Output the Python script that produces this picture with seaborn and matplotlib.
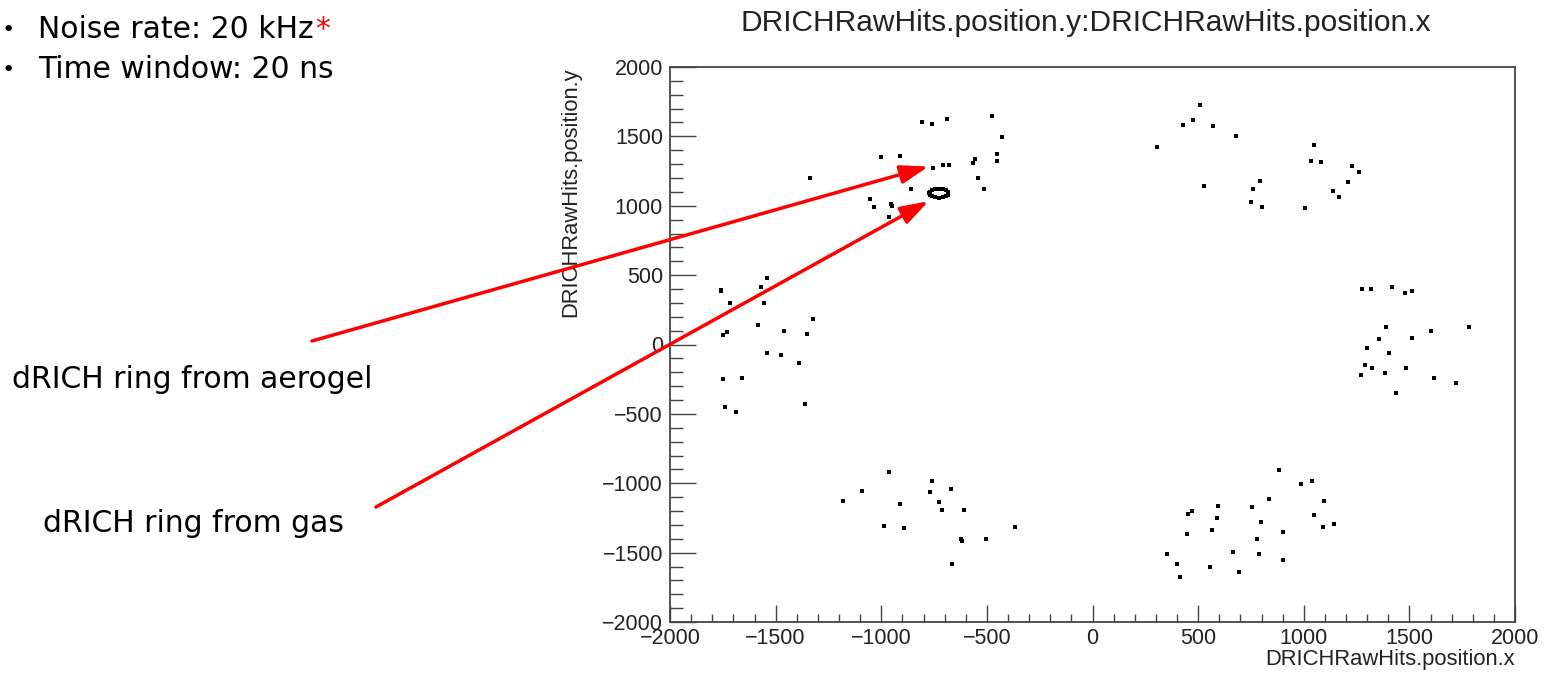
import matplotlib
matplotlib.use("Agg")
import matplotlib.pyplot as plt
import seaborn as sns
import pandas as pd

# ---------------- data (hit positions, mm) ----------------
tl_x = [-1336, -1001, -911, -809, -762, -688, -476, -427, -454, -454, -555, -566,
        -540, -513, -708, -678, -757, -878, -858, -1055, -1033, -954, -949, -964]
tl_y = [1202, 1348, 1355, 1600, 1591, 1622, 1646, 1492, 1372, 1324, 1339, 1307,
        1202, 1120, 1291, 1291, 1274, 1218, 1120, 1048, 990, 1012, 1000, 921]

left_x = [-1757, -1757, -1569, -1543, -1715, -1554, -1325, -1585, -1458, -1352,
          -1749, -1729, -1543, -1473, -1388, -1749, -1659, -1738, -1686, -1363]
left_y = [394, 385, 418, 476, 298, 298, 183, 137, 94, 79,
          72, 87, -58, -75, -132, -252, -243, -447, -488, -430]

tr_x = [508, 428, 475, 571, 681, 305, 529, 794, 762, 752,
        800, 1007, 1049, 1034, 1081, 1229, 1261, 1209, 1139, 1166]
tr_y = [1728, 1584, 1615, 1574, 1502, 1420, 1139, 1178, 1120, 1024,
        993, 983, 1437, 1324, 1314, 1286, 1242, 1170, 1108, 1065]

right_x = [1278, 1316, 1420, 1478, 1512, 1388, 1602, 1781, 1357, 1512,
           1299, 1404, 1292, 1325, 1384, 1485, 1272, 1617, 1723, 1436]
right_y = [401, 401, 411, 368, 387, 128, 96, 128, 38, 46,
           -26, -58, -147, -170, -204, -170, -221, -243, -276, -351]

bl_x = [-964, -762, -1091, -1181, -768, -670, -911, -726, -713, -609,
        -986, -890, -369, -621, -620, -502, -663]
bl_y = [-916, -981, -1053, -1127, -1062, -1045, -1151, -1137, -1192, -1192,
        -1305, -1322, -1312, -1403, -1418, -1401, -1579]

br_x = [884, 986, 1038, 836, 1097, 756, 592, 473, 450, 589, 798, 1049, 1093,
        1145, 566, 901, 445, 778, 352, 666, 787, 401, 556, 901, 694, 412]
br_y = [-908, -1004, -981, -1110, -1127, -1173, -1166, -1199, -1223, -1247, -1281,
        -1231, -1312, -1296, -1336, -1353, -1368, -1401, -1507, -1497, -1507,
        -1579, -1603, -1555, -1637, -1675]

# gas ring hits (dense small ring)
ring_x = [-682, -685, -695, -710, -727, -744, -759, -769,
          -772, -769, -759, -744, -727, -710, -695, -685]
ring_y = [1090, 1102, 1113, 1120, 1122, 1120, 1113, 1102,
          1090, 1078, 1067, 1060, 1058, 1060, 1067, 1078]

xticks = [-2000, -1500, -1000, -500, 0, 500, 1000, 1500, 2000]
yticks = [-2000, -1500, -1000, -500, 0, 500, 1000, 1500, 2000]

title = "DRICHRawHits.position.y:DRICHRawHits.position.x"
xlabel = "DRICHRawHits.position.x"
ylabel = "DRICHRawHits.position.y"

df = pd.DataFrame({
    "x": tl_x + left_x + tr_x + right_x + bl_x + br_x + ring_x,
    "y": tl_y + left_y + tr_y + right_y + bl_y + br_y + ring_y,
})

# ---------------- figure ----------------
sns.set_style("ticks")
plt.rcParams["font.family"] = ["Liberation Sans", "DejaVu Sans"]

W, H = 1549, 674
fig = plt.figure(figsize=(W / 100, H / 100), dpi=100)
ax = fig.add_axes([670 / W, 1 - 622 / H, 845 / W, 555 / H])

sns.scatterplot(data=df, x="x", y="y", ax=ax, marker="s", s=7,
                color="black", linewidth=0, legend=False)

ax.set_xlim(-2000, 2000)
ax.set_ylim(-2000, 2000)
ax.set_xticks(xticks)
ax.set_yticks(yticks)
ax.set_xticks(range(-2000, 2001, 100), minor=True)
ax.set_yticks(range(-2000, 2001, 100), minor=True)

for s in ax.spines.values():
    s.set_visible(True)
    s.set_color("#444444")
    s.set_linewidth(1.3)

ax.tick_params(axis="x", which="major", direction="in", length=12.2, width=1,
               color="#444444", labelsize=15.5, pad=4.5, bottom=True, top=False)
ax.tick_params(axis="x", which="minor", direction="in", length=5.8, width=1,
               color="#444444", bottom=True, top=False)
ax.tick_params(axis="y", which="major", direction="in", length=18.7, width=1,
               color="#444444", labelsize=15.5, pad=5, left=True, right=False)
ax.tick_params(axis="y", which="minor", direction="in", length=9.4, width=1,
               color="#444444", left=True, right=False)
for lab in ax.get_xticklabels() + ax.get_yticklabels():
    lab.set_color("#222222")

ax.set_xlabel(xlabel, fontsize=15.8, color="#222222", loc="right")
ax.xaxis.set_label_coords(1.0, -0.048)
ax.set_ylabel(ylabel, fontsize=15.8, color="#222222", loc="top")
ax.yaxis.set_label_coords(-0.105, 1.0)
ax.set_title(title, fontsize=21.5, color="#222222", x=(1086 - 670) / 845, pad=26)

# ---------------- slide annotations ----------------
def px(x, y):
    return (x / W, 1 - y / H)

slide_font = dict(family="DejaVu Sans", fontsize=21.5, color="black")
bullet_font = dict(family="DejaVu Sans", fontsize=16, color="black")
fig.text(*px(2, 36), "•", va="baseline", ha="left", **bullet_font)
t1 = fig.text(*px(38, 38), "Noise rate: 20 kHz", va="baseline", ha="left", **slide_font)
fig.text(*px(2, 76), "•", va="baseline", ha="left", **bullet_font)
fig.text(*px(38, 78), "Time window: 20 ns", va="baseline", ha="left", **slide_font)

fig.canvas.draw()
bb = t1.get_window_extent()
fig.text(bb.x1 / W + 1 / W, 1 - 38 / H, "*", va="baseline", ha="left",
         family="DejaVu Sans", fontsize=21.5, color="red")

fig.text(*px(12, 388), "dRICH ring from aerogel", va="baseline", ha="left", **slide_font)
fig.text(*px(43, 532), "dRICH ring from gas", va="baseline", ha="left", **slide_font)

arrow = dict(arrowstyle="-|>,head_length=0.85,head_width=0.28", color="red",
             lw=2.5, mutation_scale=20, shrinkA=0, shrinkB=0)
ax.annotate("", xy=(-776, 1283), xycoords="data",
            xytext=(312, H - 341), textcoords="figure pixels", arrowprops=arrow,
            annotation_clip=False)
ax.annotate("", xy=(-776, 1033), xycoords="data",
            xytext=(376, H - 507), textcoords="figure pixels", arrowprops=arrow,
            annotation_clip=False)

fig.savefig("out.png", dpi=100)
